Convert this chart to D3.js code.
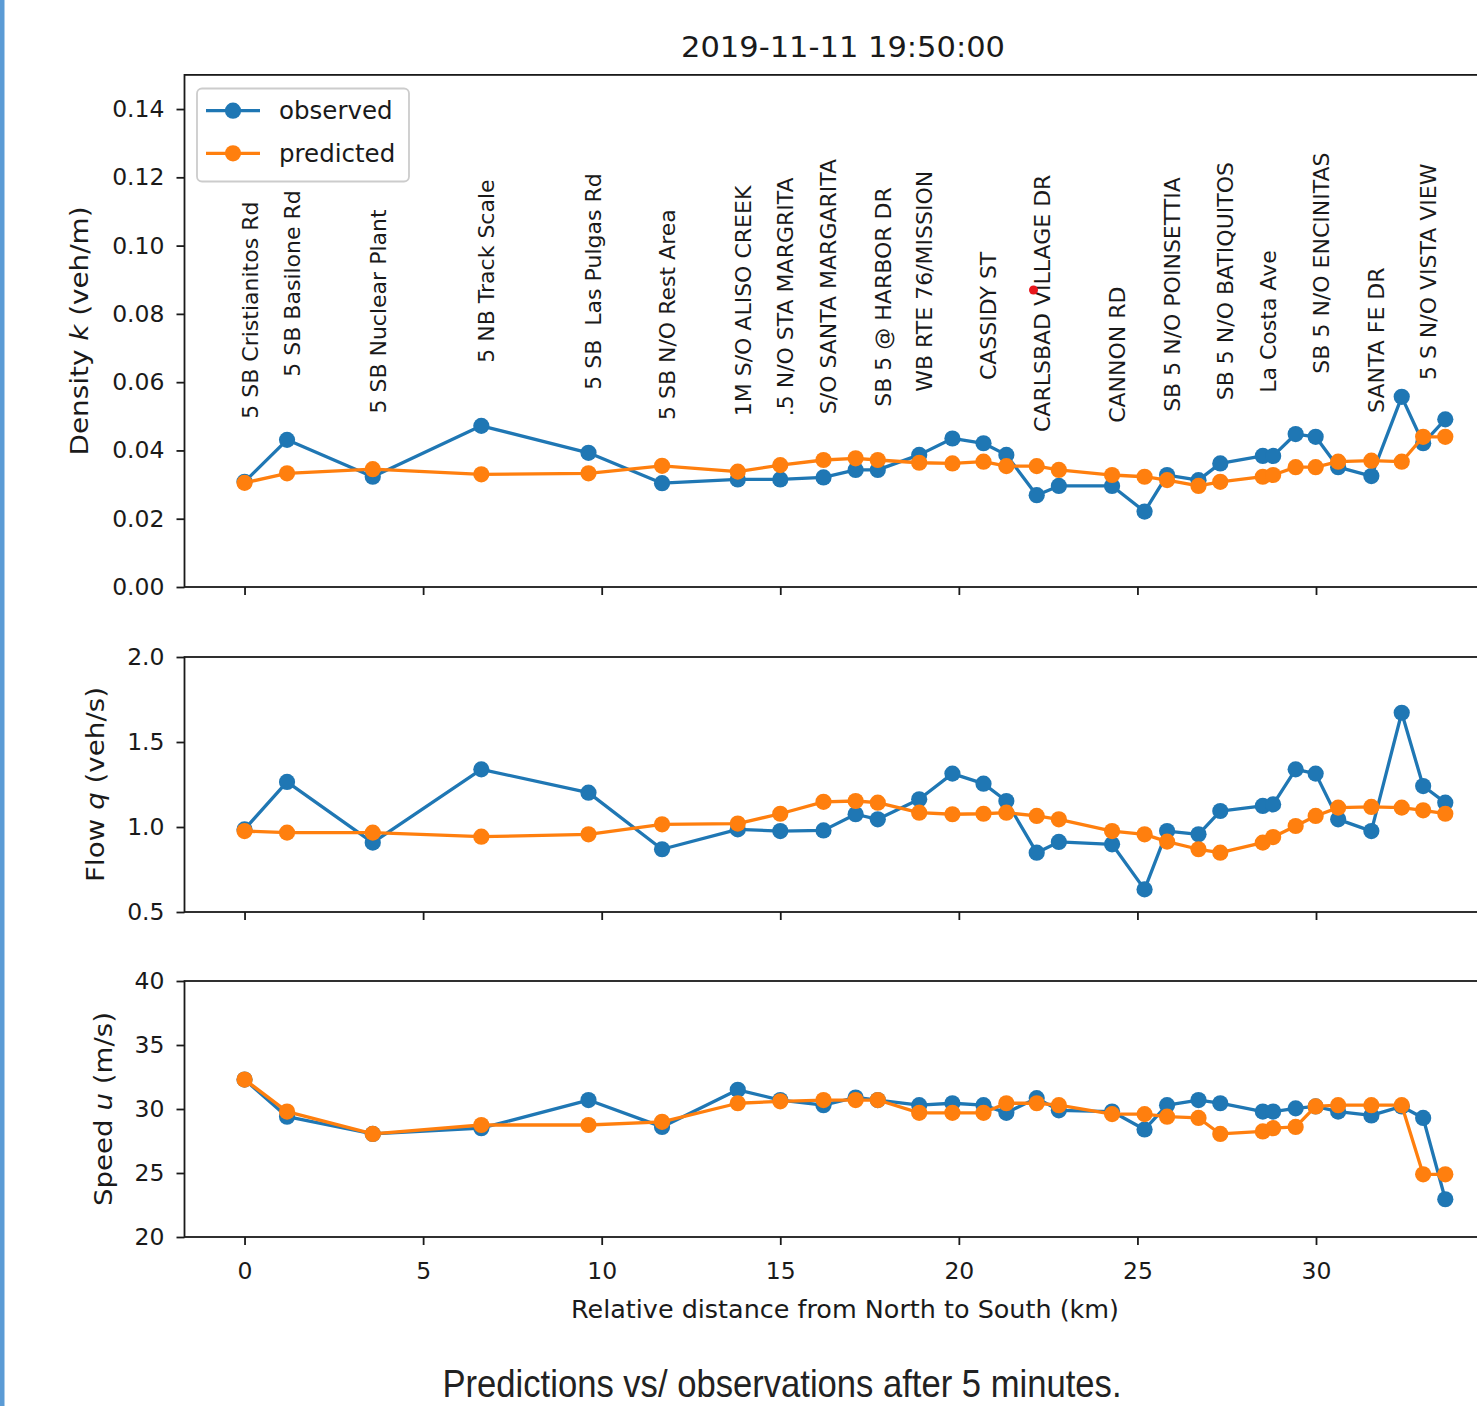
<!DOCTYPE html>
<html><head><meta charset="utf-8">
<script src="https://cdn.jsdelivr.net/npm/d3@7"></script>
<style>body{margin:0;background:#fff;} svg{display:block;} text{white-space:pre;}</style>
</head><body><svg id="c" width="1477" height="1406"></svg>
<script>
// ---------------- data ----------------
const chartTitle = "2019-11-11 19:50:00";
const caption = "Predictions vs/ observations after 5 minutes.";
const xAxisLabel = "Relative distance from North to South (km)";
const seriesNames = ["observed", "predicted"];

const distanceKm = [0, 1.19, 3.59, 6.63, 9.63, 11.69, 13.81, 15.0, 16.21, 17.11, 17.73, 18.89, 19.82, 20.69, 21.33, 22.18,
  22.80, 24.29, 25.20, 25.83, 26.71, 27.32, 28.51, 28.80, 29.43, 29.99, 30.62, 31.55, 32.40, 33.00, 33.62];

const stationNames = ["5 SB Cristianitos Rd", "5 SB Basilone Rd", "5 SB Nuclear Plant", "5 NB Track Scale",
  "5 SB  Las Pulgas Rd", "5 SB N/O Rest Area", "1M S/O ALISO CREEK", ".5 N/O STA MARGRITA", "S/O SANTA MARGARITA",
  "", "SB 5 @ HARBOR DR", "WB RTE 76/MISSION", "", "CASSIDY ST", "", "CARLSBAD VILLAGE DR", "", "CANNON RD", "",
  "SB 5 N/O POINSETTIA", "", "SB 5 N/O BATIQUITOS", "La Costa Ave", "", "", "SB 5 N/O ENCINITAS", "", "SANTA FE DR", "",
  "5 S N/O VISTA VIEW", ""];

const densityObserved = [0.0308, 0.0431, 0.0323, 0.0472, 0.0393, 0.0304, 0.0315, 0.0315, 0.0321, 0.0343, 0.0343, 0.0387,
  0.0435, 0.0421, 0.0387, 0.0269, 0.0296, 0.0296, 0.0221, 0.0328, 0.0313, 0.0362, 0.0384, 0.0384, 0.0448, 0.0440,
  0.0351, 0.0325, 0.0557, 0.0421, 0.0491];
const densityPredicted = [0.0305, 0.0333, 0.0345, 0.0330, 0.0333, 0.0355, 0.0338, 0.0357, 0.0372, 0.0377, 0.0372, 0.0364,
  0.0362, 0.0367, 0.0354, 0.0354, 0.0343, 0.0328, 0.0323, 0.0313, 0.0296, 0.0308, 0.0323, 0.0328, 0.0351, 0.0351,
  0.0367, 0.0370, 0.0367, 0.0440, 0.0440];

const flowObserved = [0.986, 1.265, 0.908, 1.339, 1.202, 0.869, 0.986, 0.976, 0.980, 1.075, 1.045, 1.163, 1.314, 1.255,
  1.153, 0.849, 0.912, 0.898, 0.633, 0.976, 0.957, 1.094, 1.124, 1.133, 1.339, 1.314, 1.045, 0.976, 1.672, 1.241, 1.143];
const flowPredicted = [0.976, 0.967, 0.967, 0.943, 0.957, 1.016, 1.020, 1.078, 1.148, 1.153, 1.143, 1.084, 1.075, 1.078,
  1.084, 1.065, 1.045, 0.976, 0.957, 0.914, 0.869, 0.849, 0.908, 0.941, 1.006, 1.065, 1.114, 1.118, 1.114, 1.098, 1.078];

const speedObserved = [32.3, 29.4, 28.05, 28.5, 30.7, 28.6, 31.5, 30.7, 30.3, 30.9, 30.7, 30.3, 30.45, 30.3, 29.7, 30.85,
  29.9, 29.8, 28.4, 30.3, 30.7, 30.45, 29.8, 29.8, 30.05, 30.2, 29.8, 29.5, 30.2, 29.3, 22.95];
const speedPredicted = [32.3, 29.8, 28.05, 28.75, 28.75, 29.0, 30.45, 30.6, 30.7, 30.7, 30.7, 29.7, 29.7, 29.7, 30.45,
  30.45, 30.3, 29.6, 29.6, 29.4, 29.3, 28.05, 28.25, 28.5, 28.6, 30.2, 30.3, 30.3, 30.3, 24.9, 24.9];

const densityTicks = [0, 0.02, 0.04, 0.06, 0.08, 0.10, 0.12, 0.14];
const flowTicks = [0.5, 1.0, 1.5, 2.0];
const speedTicks = [20, 25, 30, 35, 40];
const distanceTicks = [0, 5, 10, 15, 20, 25, 30];
const redMark = [{km: 22.09, k: 0.087}];

// ---------------- drawing ----------------
const W = 1477, H = 1406;
const FONT = "DejaVu Sans";
const INK = "#1a1a1a";
const colors = ["#1f77b4", "#ff7f0e"];
const svg = d3.select("#c");
svg.append("rect").attr("width", W).attr("height", H).attr("fill", "#fff");
svg.append("rect").attr("x", 0).attr("y", 0).attr("width", 4.5).attr("height", H).attr("fill", "#5b9bd5");

const x = d3.scaleLinear().domain([-1.681, 35.30]).range([184.5, 1505.3]);

const panels = [
  {obs: densityObserved, pred: densityPredicted, domain: [0, 0.15], range: [587, 74.9], ticks: densityTicks,
   fmt: d3.format(".2f"), label: ["Density ", "k", " (veh/m)"], labelX: 88, labelLen: 249},
  {obs: flowObserved, pred: flowPredicted, domain: [0.5, 2.0], range: [912, 657], ticks: flowTicks,
   fmt: d3.format(".1f"), label: ["Flow ", "q", " (veh/s)"], labelX: 104, labelLen: 195},
  {obs: speedObserved, pred: speedPredicted, domain: [20, 40], range: [1237, 981], ticks: speedTicks,
   fmt: d3.format("d"), label: ["Speed ", "u", " (m/s)"], labelX: 112, labelLen: 194}
];

panels.forEach((p, pi) => {
  const y = d3.scaleLinear().domain(p.domain).range(p.range);
  p.y = y;
  const g = svg.append("g");

  // y axis
  const ya = g.append("g").attr("transform", `translate(${x.range()[0]},0)`)
    .call(d3.axisLeft(y).tickValues(p.ticks).tickSize(8).tickPadding(12).tickFormat(p.fmt));
  ya.select(".domain").remove();
  ya.attr("font-family", FONT).attr("font-size", 23.5).style("color", INK);
  ya.selectAll(".tick line").attr("stroke-width", 1.8);

  // x axis
  const xa = g.append("g").attr("transform", `translate(0,${p.range[0]})`)
    .call(d3.axisBottom(x).tickValues(distanceTicks).tickSize(8).tickPadding(17)
      .tickFormat(pi === 2 ? d3.format("d") : () => ""));
  xa.select(".domain").remove();
  xa.attr("font-family", FONT).attr("font-size", 23.5).style("color", INK);
  xa.selectAll(".tick line").attr("stroke-width", 1.8);

  // frame
  g.append("rect").attr("x", x.range()[0]).attr("y", p.range[1])
    .attr("width", x.range()[1] - x.range()[0]).attr("height", p.range[0] - p.range[1])
    .attr("fill", "none").attr("stroke", INK).attr("stroke-width", 1.8);

  // y label
  const t = g.append("text")
    .attr("transform", `translate(${p.labelX},${(p.range[0] + p.range[1]) / 2}) rotate(-90)`)
    .attr("text-anchor", "middle").attr("font-family", FONT).attr("font-size", 25).attr("fill", INK)
    .attr("textLength", p.labelLen).attr("lengthAdjust", "spacingAndGlyphs");
  t.append("tspan").text(p.label[0]);
  t.append("tspan").attr("font-style", "italic").text(p.label[1]);
  t.append("tspan").text(p.label[2]);

  // series
  [p.obs, p.pred].forEach((vals, si) => {
    const pts = vals.map((v, i) => [distanceKm[i], v]);
    const line = d3.line().x(d => x(d[0])).y(d => y(d[1]));
    g.append("path").attr("d", line(pts)).attr("fill", "none")
      .attr("stroke", colors[si]).attr("stroke-width", 3.3).attr("stroke-linejoin", "round");
    g.append("g").selectAll("circle").data(pts).join("circle")
      .attr("cx", d => x(d[0])).attr("cy", d => y(d[1])).attr("r", 8.1).attr("fill", colors[si]);
  });
});

// station labels in the density panel
const yK = panels[0].y;
const labelOffset = 0.0185;
svg.append("g").selectAll("text")
  .data(stationNames.map((n, i) => ({n, i})).filter(d => d.n !== ""))
  .join("text")
  .attr("transform", d => `translate(${x(distanceKm[d.i]) + 13},${yK(densityObserved[d.i] + labelOffset)}) rotate(-90)`)
  .attr("font-family", FONT).attr("font-size", 22).attr("fill", INK)
  .text(d => d.n);

// red mark
svg.append("g").selectAll("circle").data(redMark).join("circle")
  .attr("cx", d => x(d.km)).attr("cy", d => yK(d.k)).attr("r", 4.5).attr("fill", "#e8161b");

// legend
const lg = svg.append("g");
lg.append("rect").attr("x", 197).attr("y", 88.5).attr("width", 212).attr("height", 93).attr("rx", 5)
  .attr("fill", "#fff").attr("fill-opacity", 0.8).attr("stroke", "#cccccc").attr("stroke-width", 1.8);
seriesNames.forEach((name, i) => {
  const cy = 110.7 + i * 42.6;
  lg.append("line").attr("x1", 206).attr("x2", 260).attr("y1", cy).attr("y2", cy)
    .attr("stroke", colors[i]).attr("stroke-width", 3.3);
  lg.append("circle").attr("cx", 233).attr("cy", cy).attr("r", 8.1).attr("fill", colors[i]);
  lg.append("text").attr("x", 279).attr("y", cy + 8.5).attr("font-family", FONT).attr("font-size", 24.5)
    .attr("fill", INK).text(name);
});

// title
svg.append("text").attr("x", 843).attr("y", 57).attr("text-anchor", "middle")
  .attr("font-family", FONT).attr("font-size", 29).attr("fill", INK)
  .attr("textLength", 324).attr("lengthAdjust", "spacingAndGlyphs").text(chartTitle);

// x label
svg.append("text").attr("x", 845).attr("y", 1318).attr("text-anchor", "middle")
  .attr("font-family", FONT).attr("font-size", 24).attr("fill", INK)
  .attr("textLength", 548).attr("lengthAdjust", "spacingAndGlyphs").text(xAxisLabel);

// caption
svg.append("text").attr("x", 782).attr("y", 1397).attr("text-anchor", "middle")
  .attr("font-family", "Liberation Sans").attr("font-size", 39).attr("fill", "#222")
  .attr("textLength", 679).attr("lengthAdjust", "spacingAndGlyphs").text(caption);
</script>
</body></html>
